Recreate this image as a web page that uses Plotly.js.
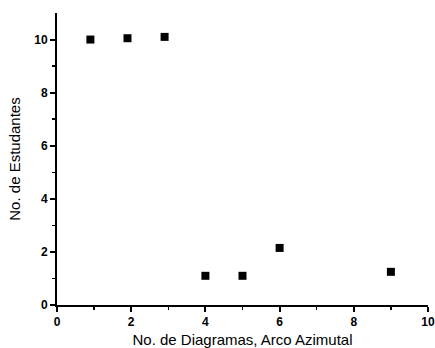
<!DOCTYPE html>
<html><head><meta charset="utf-8">
<script src="https://cdn.plot.ly/plotly-3.0.1.min.js"></script>
<style>html,body{margin:0;padding:0;background:#fff}#c{width:435px;height:348px}</style>
</head><body><div id="c"></div>
<script>
const diagramas = [0.9, 1.9, 2.9, 4, 5, 6, 9];
const estudantes = [10.0, 10.05, 10.1, 1.1, 1.1, 2.15, 1.25];
const xTicks = [0, 2, 4, 6, 8, 10];
const yTicks = [0, 2, 4, 6, 8, 10];

const tickFont = {family: 'Liberation Sans, Arial, sans-serif', size: 12, color: '#000', weight: 'bold'};
const titleFont = {family: 'Liberation Sans, Arial, sans-serif', size: 15, color: '#000'};

Plotly.newPlot('c', [{
  x: diagramas, y: estudantes, type: 'scatter', mode: 'markers',
  marker: {symbol: 'square', size: 8, color: '#000'}
}], {
  width: 435, height: 348,
  margin: {l: 57, r: 7, t: 13, b: 43},
  paper_bgcolor: '#fff', plot_bgcolor: '#fff',
  showlegend: false,
  xaxis: {
    range: [0, 10], tickvals: xTicks, ticktext: xTicks.map(String),
    ticks: 'outside', ticklen: 5, tickwidth: 2, tickcolor: '#000',
    minor: {tickvals: [1,3,5,7,9], ticks: 'outside', ticklen: 3, tickwidth: 1.5, tickcolor: '#000'},
    showline: true, linecolor: '#000', linewidth: 2, showgrid: false, zeroline: false,
    tickfont: tickFont,
    title: {text: 'No. de Diagramas, Arco Azimutal', font: titleFont, standoff: 8}
  },
  yaxis: {
    range: [0, 11], tickvals: yTicks, ticktext: yTicks.map(String),
    ticks: 'outside', ticklen: 5, tickwidth: 2, tickcolor: '#000',
    minor: {tickvals: [1,3,5,7,9], ticks: 'outside', ticklen: 3, tickwidth: 1.5, tickcolor: '#000'},
    showline: true, linecolor: '#000', linewidth: 2, showgrid: false, zeroline: false,
    tickfont: tickFont,
    title: {text: 'No. de Estudantes', font: titleFont, standoff: 10}
  }
}, {displayModeBar: false, staticPlot: true});
</script></body></html>
